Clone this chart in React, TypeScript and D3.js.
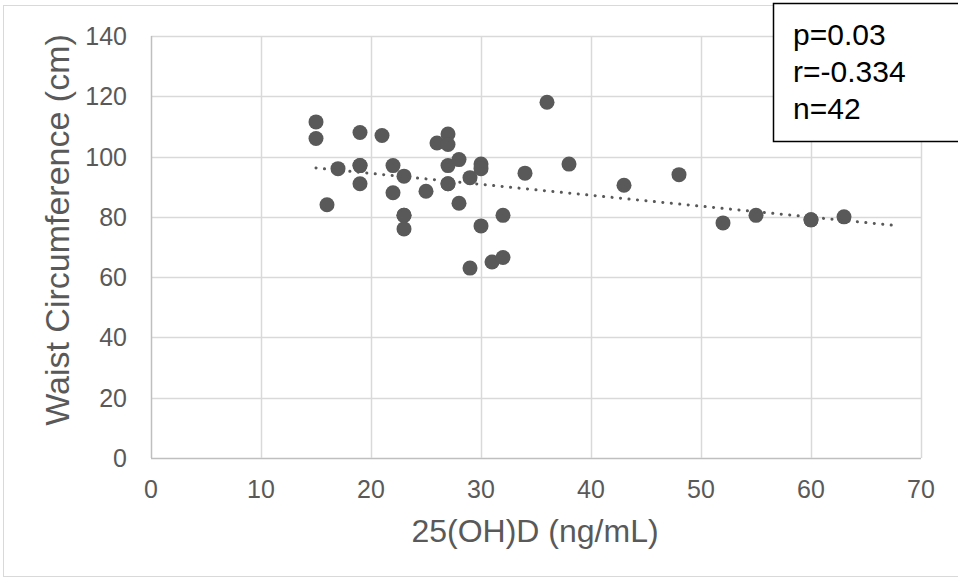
import React, { useEffect, useRef } from 'react';
import * as d3 from 'd3';

const width = 958;
const height = 580;
const plot = { left: 151, right: 921, top: 36, bottom: 458 };

// 25(OH)D (ng/mL) and waist circumference (cm), one entry per subject
const vitD = [
  15, 15, 16, 17, 19, 19, 19, 19, 21, 22, 22, 23, 23, 23, 23, 25, 26, 27, 27, 27, 27, 27,
  28, 28, 29, 29, 30, 30, 30, 31, 32, 32, 34, 36, 38, 43, 48, 52, 55, 60, 60, 63,
];
const waist = [
  111.5, 106, 84, 96, 108, 97, 97, 91, 107, 97, 88, 93.5, 80.5, 80.5, 76, 88.5, 104.5, 107.5, 104, 97, 91, 91,
  99, 84.5, 93, 63, 97.5, 96, 77, 65, 66.5, 80.5, 94.5, 118, 97.5, 90.5, 94, 78, 80.5, 79, 79, 80,
];
const xTicks = [0, 10, 20, 30, 40, 50, 60, 70];
const yTicks = [0, 20, 40, 60, 80, 100, 120, 140];
const trendRange = [15, 68];
const statsLines = ['p=0.03', 'r=-0.334', 'n=42'];

const App = () => {
  const svgRef = useRef<SVGSVGElement>(null);

  useEffect(() => {
    const svg = d3.select(svgRef.current);
    svg.selectAll('*').remove();

    const x = d3.scaleLinear().domain([0, 70]).range([plot.left, plot.right]);
    const y = d3.scaleLinear().domain([0, 140]).range([plot.bottom, plot.top]);

    // chart frame
    svg.append('rect')
      .attr('x', 3.5).attr('y', 5.5)
      .attr('width', 970).attr('height', 571)
      .attr('fill', 'white')
      .attr('stroke', '#d9d9d9');

    // grid
    svg.append('g').selectAll('line')
      .data(yTicks)
      .enter().append('line')
      .attr('x1', plot.left).attr('x2', plot.right)
      .attr('y1', d => Math.round(y(d)) + 0.5).attr('y2', d => Math.round(y(d)) + 0.5)
      .attr('stroke', d => d === 0 ? '#bfbfbf' : '#d9d9d9')
      .attr('stroke-width', 1.5);

    svg.append('g').selectAll('line')
      .data(xTicks)
      .enter().append('line')
      .attr('x1', d => Math.round(x(d)) + 0.5).attr('x2', d => Math.round(x(d)) + 0.5)
      .attr('y1', plot.top).attr('y2', plot.bottom)
      .attr('stroke', d => d === 0 ? '#bfbfbf' : '#d9d9d9')
      .attr('stroke-width', 1.5);

    const font = '"Liberation Sans", Arial, sans-serif';

    svg.append('g').selectAll('text')
      .data(xTicks)
      .enter().append('text')
      .attr('x', d => x(d))
      .attr('y', 498)
      .attr('text-anchor', 'middle')
      .attr('font-family', font)
      .attr('font-size', 25)
      .attr('fill', '#595959')
      .text(d => d);

    svg.append('g').selectAll('text')
      .data(yTicks)
      .enter().append('text')
      .attr('x', 127)
      .attr('y', d => y(d) + 9)
      .attr('text-anchor', 'end')
      .attr('font-family', font)
      .attr('font-size', 25)
      .attr('fill', '#595959')
      .text(d => d);

    svg.append('text')
      .attr('x', 535)
      .attr('y', 542)
      .attr('text-anchor', 'middle')
      .attr('font-family', font)
      .attr('font-size', 32)
      .attr('fill', '#595959')
      .text('25(OH)D (ng/mL)');

    svg.append('text')
      .attr('transform', 'rotate(-90)')
      .attr('x', -230)
      .attr('y', 69)
      .attr('text-anchor', 'middle')
      .attr('font-family', font)
      .attr('font-size', 34)
      .attr('fill', '#595959')
      .text('Waist Circumference (cm)');

    // points
    const pts = vitD.map((v, i) => [v, waist[i]]);
    svg.append('g').selectAll('circle')
      .data(pts)
      .enter().append('circle')
      .attr('cx', d => x(d[0]))
      .attr('cy', d => y(d[1]))
      .attr('r', 7.5)
      .attr('fill', '#595959');

    // linear trendline (least squares)
    const mx = d3.mean(vitD) as number;
    const my = d3.mean(waist) as number;
    const slope = d3.sum(vitD, (v, i) => (v - mx) * (waist[i] - my)) / d3.sum(vitD, v => (v - mx) ** 2);
    const icpt = my - slope * mx;
    const line = d3.line<number>()
      .x(d => x(d))
      .y(d => y(icpt + slope * d));
    svg.append('path')
      .datum(trendRange)
      .attr('fill', 'none')
      .attr('stroke', '#595959')
      .attr('stroke-width', 3)
      .attr('stroke-linecap', 'round')
      .attr('stroke-dasharray', '0.1 8.4')
      .attr('d', line);

    // stats box
    svg.append('rect')
      .attr('x', 773.5).attr('y', 3.5)
      .attr('width', 200).attr('height', 138)
      .attr('fill', 'white')
      .attr('stroke', 'black')
      .attr('stroke-width', 1.5);

    svg.append('g').selectAll('text')
      .data(statsLines)
      .enter().append('text')
      .attr('x', 793)
      .attr('y', (d, i) => 45 + i * 37)
      .attr('font-family', font)
      .attr('font-size', 30)
      .attr('fill', 'black')
      .text(d => d);
  }, []);

  return (
    <svg ref={svgRef} width={width} height={height}
      style={{ position: 'absolute', left: 0, top: 0, background: 'white' }} />
  );
};

export default App;
